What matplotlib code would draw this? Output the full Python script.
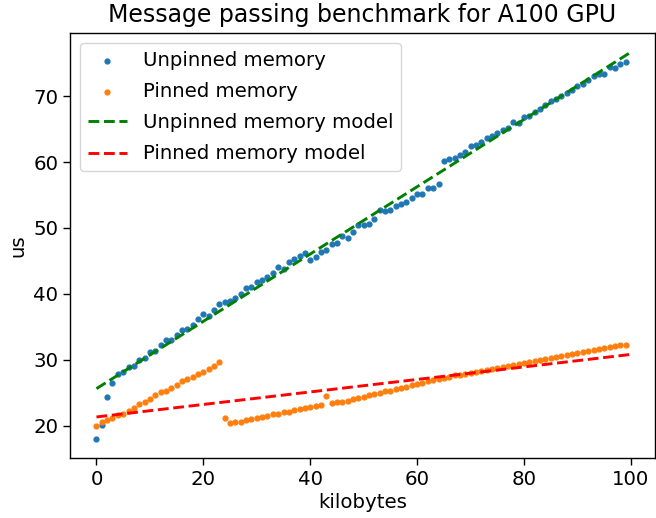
import numpy as np
import matplotlib
matplotlib.use("Agg")
import matplotlib.pyplot as plt

kilobytes = list(range(100))

unpinned_us = [
    18.0, 20.1, 24.3, 26.4, 27.9, 28.2, 28.9, 29.1, 30.0, 30.2,
    31.1, 31.3, 32.3, 33.0, 33.0, 33.8, 34.5, 34.6, 35.2, 36.2,
    36.9, 36.6, 37.6, 38.4, 38.8, 38.9, 39.4, 39.9, 40.9, 41.1,
    41.8, 42.1, 42.6, 43.1, 44.1, 43.8, 44.8, 45.3, 45.8, 46.2,
    45.1, 45.6, 46.4, 46.6, 47.5, 47.7, 48.8, 48.5, 49.4, 50.4,
    50.4, 50.6, 51.3, 52.7, 52.5, 52.7, 53.3, 53.6, 53.9, 54.5,
    55.1, 55.1, 56.0, 56.0, 56.7, 60.1, 60.4, 60.6, 61.1, 61.6,
    62.4, 62.6, 63.1, 63.6, 64.0, 64.4, 64.8, 65.2, 66.1, 65.9,
    66.9, 67.0, 67.6, 68.1, 68.7, 69.2, 69.6, 70.0, 70.5, 70.9,
    71.5, 71.9, 72.4, 73.0, 73.4, 73.3, 74.5, 74.3, 74.9, 75.2,
]

pinned_us = [
    20.0, 20.5, 20.8, 21.1, 21.6, 21.7, 22.2, 22.7, 23.2, 23.6,
    24.1, 24.6, 25.1, 25.3, 25.7, 26.2, 26.7, 27.1, 27.3, 27.9,
    28.1, 28.6, 29.0, 29.7, 21.2, 20.4, 20.5, 20.6, 20.8, 21.0,
    21.1, 21.3, 21.5, 21.7, 21.8, 22.0, 22.1, 22.3, 22.5, 22.6,
    22.8, 22.9, 23.1, 24.5, 23.4, 23.5, 23.6, 23.8, 24.0, 24.2,
    24.4, 24.6, 24.8, 25.0, 25.2, 25.3, 25.5, 25.7, 25.9, 26.1,
    26.3, 26.5, 26.7, 26.9, 27.0, 27.2, 27.4, 27.6, 27.7, 27.9,
    28.0, 28.2, 28.3, 28.5, 28.6, 28.8, 28.9, 29.1, 29.2, 29.4,
    29.5, 29.7, 29.8, 30.0, 30.1, 30.3, 30.4, 30.6, 30.7, 30.9,
    31.0, 31.2, 31.3, 31.4, 31.6, 31.7, 31.9, 32.0, 32.2, 32.3,
]

# Linear models: intercept (us), slope (us per kilobyte)
unpinned_model = (25.6, 0.511)
pinned_model = (21.3, 0.095)
model_x = [0, 100]

fig = plt.figure(figsize=(6.56, 5.18), dpi=100)
ax = fig.add_axes([70 / 656, 60 / 518, (655 - 70) / 656, (458 - 33) / 518])

ax.scatter(kilobytes, unpinned_us, s=12, color="#1f77b4", label="Unpinned memory")
ax.scatter(kilobytes, pinned_us, s=12, color="#ff7f0e", label="Pinned memory")
mx = np.array(model_x, dtype=float)
ax.plot(mx, unpinned_model[0] + unpinned_model[1] * mx, "g--", lw=2.1,
        label="Unpinned memory model")
ax.plot(mx, pinned_model[0] + pinned_model[1] * mx, "r--", lw=2.1,
        label="Pinned memory model")

ax.set_xlim(-4.95, 104.5)
ax.set_ylim(15.07, 79.6)
ax.set_xticks([0, 20, 40, 60, 80, 100])
ax.set_yticks([20, 30, 40, 50, 60, 70])
ax.tick_params(labelsize=14.2, length=5, width=1.0)
for s in ax.spines.values():
    s.set_linewidth(1.0)
ax.set_xlabel("kilobytes", fontsize=14.2, labelpad=3)
ax.set_ylabel("us", fontsize=14.2)
ax.set_title("Message passing benchmark for A100 GPU", fontsize=17, pad=8)
ax.legend(loc="upper left", fontsize=14.2, labelspacing=0.62)

fig.savefig("out.png", dpi=100)
